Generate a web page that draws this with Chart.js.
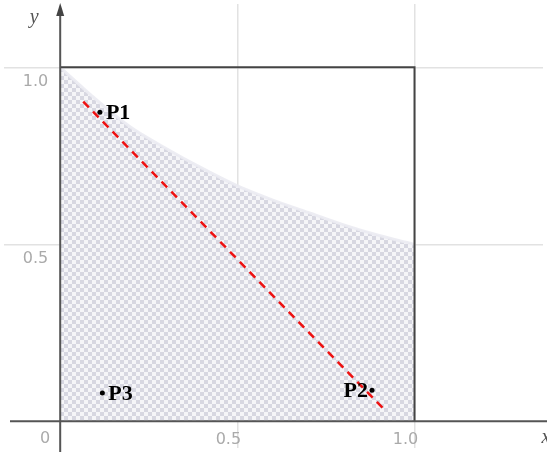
<!DOCTYPE html>
<html>
<head>
<meta charset="utf-8">
<script src="https://cdn.jsdelivr.net/npm/chart.js@4"></script>
<style>
html,body{margin:0;padding:0;background:#fff;}
canvas{display:block;}
</style>
</head>
<body>
<canvas id="c" width="547" height="452"></canvas>
<script>
// Shaded region boundary
const curveX = [0, 0.1, 0.2, 0.3, 0.4, 0.5, 0.6, 0.7, 0.8, 0.9, 1.0];
const curveY = [1.0, 0.91, 0.83, 0.77, 0.715, 0.665, 0.625, 0.59, 0.555, 0.525, 0.5];
// Unit square outline (top and right edges)
const boxX = [0, 1, 1];
const boxY = [1, 1, 0];
// Red dashed line
const lineX = [0.065, 0.92];
const lineY = [0.903, 0.028];
// Labelled points
const pointNames = ['P1', 'P2', 'P3'];
const pointX = [0.112, 0.88, 0.119];
const pointY = [0.873, 0.088, 0.08];
// Tick labels
const xTicks = [0.5, 1.0];
const xTickLabels = ['0.5', '1.0'];
const yTicks = [0.5, 1.0];
const yTickLabels = ['0.5', '1.0'];
const originLabel = '0';

const zip = (xs, ys) => xs.map((x, i) => ({x, y: ys[i]}));

// checker pattern
const pc = document.createElement('canvas');
pc.width = 8; pc.height = 8;
const pctx = pc.getContext('2d');
pctx.fillStyle = '#f5f5f8';
pctx.fillRect(0, 0, 8, 8);
pctx.fillStyle = '#d7d7e1';
pctx.fillRect(0, 0, 4, 4);
pctx.fillRect(4, 4, 4, 4);
const ctx = document.getElementById('c').getContext('2d');
const pattern = ctx.createPattern(pc, 'repeat');

const overlay = {
  id: 'overlay',
  afterDatasetsDraw(chart) {
    const c = chart.ctx;
    const xs = chart.scales.x, ys = chart.scales.y;
    const x0 = xs.getPixelForValue(0), y0 = ys.getPixelForValue(0);
    c.save();
    // axes
    c.strokeStyle = '#555';
    c.lineWidth = 2;
    c.beginPath();
    c.moveTo(x0, chart.height); c.lineTo(x0, 8);
    c.moveTo(10, y0); c.lineTo(chart.width, y0);
    c.stroke();
    // arrow on y axis
    c.fillStyle = '#444';
    c.beginPath();
    c.moveTo(x0, 3); c.lineTo(x0 - 4, 16); c.lineTo(x0 + 4, 16); c.closePath();
    c.fill();
    // tick labels
    c.fillStyle = '#aaa';
    c.font = '16px "DejaVu Sans"';
    c.textAlign = 'right';
    c.textBaseline = 'middle';
    yTicks.forEach((v, i) => {
      c.fillText(yTickLabels[i], x0 - 12, ys.getPixelForValue(v) + 15);
    });
    c.textAlign = 'center';
    xTicks.forEach((v, i) => {
      c.fillText(xTickLabels[i], xs.getPixelForValue(v) - 9, y0 + 18);
    });
    c.fillText(originLabel, x0 - 15, y0 + 17);
    // axis names
    c.fillStyle = '#555';
    c.font = 'italic 20px "Liberation Serif"';
    c.textAlign = 'center';
    c.fillText('y', x0 - 26, 18);
    c.fillText('x', 546, y0 + 16);
    // point labels
    const meta = chart.getDatasetMeta(3);
    c.fillStyle = '#000';
    c.font = 'bold 22px "Liberation Serif"';
    meta.data.forEach((el, i) => {
      const name = pointNames[i];
      if (name === 'P2') {
        c.textAlign = 'right';
        c.fillText(name, el.x - 4, el.y + 1);
      } else {
        c.textAlign = 'left';
        c.fillText(name, el.x + 6, el.y + 1);
      }
    });
    c.restore();
  }
};

const gridTicks = (scale) => { scale.ticks = [{value: 0}, {value: 0.5}, {value: 1}]; };
const gridColor = (cx) => cx.tick && cx.tick.value === 0 ? 'rgba(0,0,0,0)' : '#e2e2e2';

new Chart(ctx, {
  type: 'scatter',
  data: {
    datasets: [
      {
        data: zip(curveX, curveY),
        showLine: true,
        fill: 'origin',
        backgroundColor: pattern,
        borderColor: 'rgba(235,235,242,0.9)',
        borderWidth: 3,
        pointRadius: 0,
        tension: 0.3,
        order: 4
      },
      {
        data: zip(boxX, boxY),
        showLine: true,
        fill: false,
        borderColor: '#444',
        borderWidth: 2,
        pointRadius: 0,
        order: 3
      },
      {
        data: zip(lineX, lineY),
        showLine: true,
        fill: false,
        borderColor: '#ee1111',
        borderWidth: 2.5,
        borderDash: [8, 6],
        pointRadius: 0,
        order: 2
      },
      {
        data: zip(pointX, pointY),
        showLine: false,
        pointRadius: 2.5,
        pointBackgroundColor: '#000',
        pointBorderWidth: 0,
        order: 1
      }
    ]
  },
  options: {
    responsive: false,
    animation: false,
    events: [],
    layout: {padding: 0},
    plugins: {legend: {display: false}, tooltip: {enabled: false}},
    scales: {
      x: {
        type: 'linear',
        min: -0.1586, max: 1.3626,
        afterBuildTicks: gridTicks,
        ticks: {display: false},
        border: {display: false},
        grid: {color: gridColor, lineWidth: 1.5, drawTicks: false}
      },
      y: {
        type: 'linear',
        min: -0.0752, max: 1.1787,
        afterBuildTicks: gridTicks,
        ticks: {display: false},
        border: {display: false},
        grid: {color: gridColor, lineWidth: 1.5, drawTicks: false}
      }
    }
  },
  plugins: [overlay]
});
</script>
</body>
</html>
